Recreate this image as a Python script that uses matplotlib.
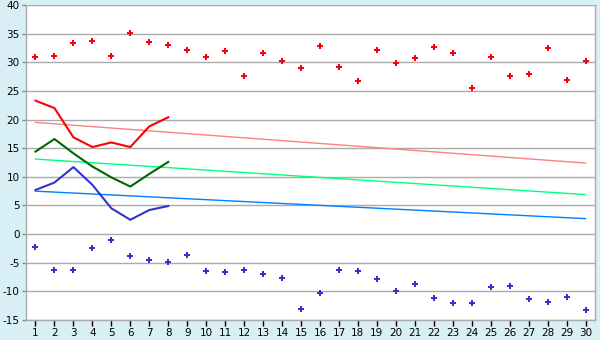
import matplotlib
matplotlib.use("Agg")
import matplotlib.pyplot as plt

plt.rcParams["axes.unicode_minus"] = False

days = list(range(1, 31))
max_pts = [30.9, 31.1, 33.3, 33.7, 31.1, 35.1, 33.5, 33.0, 32.1, 30.9,
           31.9, 27.6, 31.6, 30.2, 29.0, 32.8, 29.1, 26.7, 32.1, 29.8,
           30.7, 32.6, 31.6, 25.5, 30.9, 27.6, 27.9, 32.5, 26.9, 30.2]
min_pts = [-2.2, -6.2, -6.2, -2.5, -1.1, -3.9, -4.6, -4.9, -3.7, -6.5,
           -6.7, -6.3, -6.9, -7.7, -13.0, -10.2, -6.3, -6.5, -7.9, -10.0,
           -8.8, -11.1, -12.1, -12.1, -9.3, -9.1, -11.4, -11.9, -10.9, -13.2]
line_days = [1, 2, 3, 4, 5, 6, 7, 8]
red_line = [23.3, 22.0, 16.9, 15.2, 16.0, 15.2, 18.8, 20.4]
green_line = [14.4, 16.6, 14.1, 11.8, 9.9, 8.3, 10.5, 12.6]
blue_line = [7.7, 9.0, 11.7, 8.6, 4.5, 2.5, 4.2, 4.9]
trend_days = [1, 30]
red_trend = [19.5, 12.4]
green_trend = [13.1, 6.9]
blue_trend = [7.5, 2.7]
yticks = list(range(-15, 41, 5))

bg = "#D9EFF6"
fig = plt.figure(figsize=(6, 3.4), dpi=100, facecolor=bg)
ax = fig.add_axes([26/600, 1-320/340, (595-26)/600, (320-5)/340])
ax.set_facecolor("white")

for y in yticks:
    ax.axhline(y, color="#AAAAAA", lw=1, zorder=0)

ax.plot(trend_days, red_trend, color="#FF8080", lw=1, zorder=2)
ax.plot(trend_days, green_trend, color="#00FF80", lw=1, zorder=2)
ax.plot(trend_days, blue_trend, color="#0080FF", lw=1, zorder=2)

ax.plot(line_days, red_line, color="#FF0000", lw=1.5, zorder=3)
ax.plot(line_days, green_line, color="#006600", lw=1.5, zorder=3)
ax.plot(line_days, blue_line, color="#3333CC", lw=1.5, zorder=3)

ax.plot(days, max_pts, linestyle="none", marker="P", ms=5, color="#FF0000",
        markeredgewidth=0, zorder=4)
ax.plot(days, min_pts, linestyle="none", marker="P", ms=5, color="#3333CC",
        markeredgewidth=0, zorder=4)

ax.set_xlim(0.5, 30.5)
ax.set_ylim(-15, 40)
ax.set_xticks(days)
ax.set_yticks(yticks)
ax.spines["top"].set_visible(False)
for s in ["left", "bottom", "right"]:
    ax.spines[s].set_color("#AAAAAA")
    ax.spines[s].set_linewidth(1)
ax.tick_params(axis="both", colors="black", labelsize=7.5, length=4, width=1, pad=1.5)
ax.tick_params(axis="y", length=3, color="#888888")

fig.savefig("out.png", dpi=100, facecolor=bg)
